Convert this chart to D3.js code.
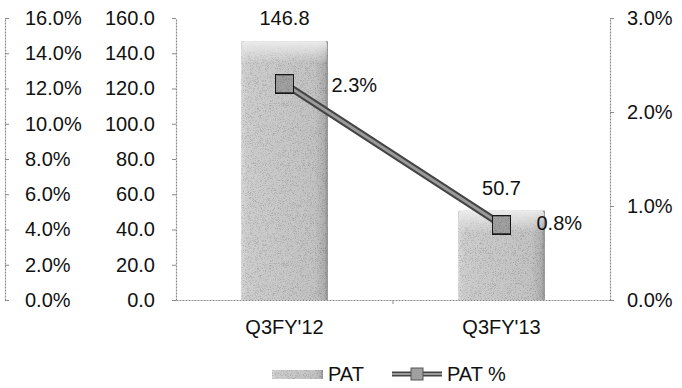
<!DOCTYPE html>
<html>
<head>
<meta charset="utf-8">
<script src="https://cdn.jsdelivr.net/npm/d3@7"></script>
<style>
  html, body { margin: 0; padding: 0; background: #fff; }
  svg { display: block; font-family: "Liberation Sans", Arial, sans-serif; }
  .tick text { font-size: 20px; fill: #111; }
</style>
</head>
<body>
<svg id="chart" width="682" height="388"></svg>
<script>
// Quarterly profit after tax (PAT) and PAT margin
const categories = ["Q3FY'12", "Q3FY'13"];
const patValues = [146.8, 50.7];          // PAT, left value axis
const patPctValues = [2.3, 0.8];          // PAT %, right axis (percent)
const patLabels = ["146.8", "50.7"];
const patPctLabels = ["2.3%", "0.8%"];
const leftValueTicks = [0, 20, 40, 60, 80, 100, 120, 140, 160];
const leftPctTicks = [0, 2, 4, 6, 8, 10, 12, 14, 16];
const rightPctTicks = [0, 1, 2, 3];
const legendNames = ["PAT", "PAT %"];

const svg = d3.select("#chart");
const plotLeft = 176, plotRight = 610, plotTop = 18, plotBottom = 300;

const x = d3.scaleBand().domain(categories).range([plotLeft, plotRight]).padding(0);
const y = d3.scaleLinear().domain([0, 160]).range([plotBottom, plotTop]);
const yPctOuter = d3.scaleLinear().domain([0, 16]).range([plotBottom, plotTop]);
const yPctRight = d3.scaleLinear().domain([0, 3]).range([plotBottom, plotTop]);
const barWidth = x.bandwidth() * 0.4;

// gradients for the bars
const defs = svg.append("defs");
const g1 = defs.append("linearGradient").attr("id", "barH").attr("x1", 0).attr("x2", 1).attr("y1", 0).attr("y2", 0);
[["0%", "#d8d8d8"], ["8%", "#cdcdcd"], ["85%", "#c3c3c3"], ["96%", "#b0b0b0"], ["100%", "#909090"]]
  .forEach(([o, c]) => g1.append("stop").attr("offset", o).attr("stop-color", c));
const g2 = defs.append("linearGradient").attr("id", "barTop").attr("x1", 0).attr("x2", 0).attr("y1", 0).attr("y2", 1);
[["0%", "#ececec", 1], ["100%", "#ececec", 0]]
  .forEach(([o, c, a]) => g2.append("stop").attr("offset", o).attr("stop-color", c).attr("stop-opacity", a));
// fine grain over the gray fills
const grain = defs.append("filter").attr("id", "grain").attr("x", 0).attr("y", 0).attr("width", 1).attr("height", 1);
grain.append("feTurbulence").attr("type", "fractalNoise").attr("baseFrequency", 1.6).attr("numOctaves", 1).attr("seed", 3).attr("result", "n");
grain.append("feColorMatrix").attr("in", "n").attr("type", "matrix")
  .attr("values", "0 0 0 0 0  0 0 0 0 0  0 0 0 0 0  0 0 0 -1.2 0.62").attr("result", "dots");
grain.append("feComposite").attr("in", "dots").attr("in2", "SourceGraphic").attr("operator", "in").attr("result", "d2");
const gm = grain.append("feMerge");
gm.append("feMergeNode").attr("in", "SourceGraphic");
gm.append("feMergeNode").attr("in", "d2");

const axisColor = "#8a8a8a";

// outer percent axis (far left)
const outerAxis = svg.append("g").attr("transform", `translate(5,0)`)
  .call(d3.axisRight(yPctOuter).tickValues(leftPctTicks).tickSize(4).tickSizeOuter(0).tickPadding(16)
    .tickFormat(d => d3.format(".1f")(d) + "%"));

// value axis
const valueAxis = svg.append("g").attr("transform", `translate(${plotLeft},0)`)
  .call(d3.axisLeft(y).tickValues(leftValueTicks).tickSize(4).tickSizeOuter(0).tickPadding(17)
    .tickFormat(d3.format(".1f")));

// right percent axis
const rightAxis = svg.append("g").attr("transform", `translate(${plotRight},0)`)
  .call(d3.axisRight(yPctRight).tickValues(rightPctTicks).tickSize(4).tickSizeOuter(0).tickPadding(13)
    .tickFormat(d => d3.format(".1f")(d) + "%"));

// category axis
const catAxis = svg.append("g").attr("transform", `translate(0,${plotBottom})`)
  .call(d3.axisBottom(x).tickSize(0).tickSizeOuter(0).tickPadding(20));
catAxis.append("line").attr("x1", x.range()[0] + x.step()).attr("x2", x.range()[0] + x.step())
  .attr("y1", 0).attr("y2", 4).attr("stroke", axisColor);

[outerAxis, valueAxis, rightAxis, catAxis].forEach(a => {
  a.select(".domain").attr("stroke", axisColor).attr("stroke-width", 1.2).attr("stroke-dasharray", "2,1");
  a.selectAll(".tick line").attr("stroke", axisColor);
  a.selectAll(".tick text").style("font-size", "20px").attr("fill", "#111").attr("font-family", "Liberation Sans, Arial, sans-serif");
});
catAxis.selectAll(".tick text").attr("dy", "0.71em");

// bars
const bars = svg.append("g");
categories.forEach((c, i) => {
  const bx = x(c) + (x.bandwidth() - barWidth) / 2;
  const by = y(patValues[i]);
  const bh = y(0) - by;
  bars.append("rect").attr("x", bx).attr("y", by).attr("width", barWidth).attr("height", bh)
    .attr("fill", "url(#barH)").attr("filter", "url(#grain)");
  bars.append("rect").attr("x", bx + 1).attr("y", by).attr("width", barWidth - 2).attr("height", Math.min(22, bh))
    .attr("rx", 3).attr("fill", "url(#barTop)");
  bars.append("text").attr("x", x(c) + x.bandwidth() / 2).attr("y", by - 16)
    .attr("text-anchor", "middle").attr("font-size", 20).attr("fill", "#111").text(patLabels[i]);
});

// PAT % line on the right axis
const pts = categories.map((c, i) => [x(c) + x.bandwidth() / 2, yPctRight(patPctValues[i])]);
const line = d3.line();
svg.append("path").attr("d", line(pts)).attr("stroke", "#444").attr("stroke-width", 7).attr("fill", "none");
svg.append("path").attr("d", line(pts)).attr("stroke", "#9a9a9a").attr("stroke-width", 3).attr("fill", "none");
const sq = 19;
pts.forEach((p, i) => {
  svg.append("rect").attr("x", p[0] - sq / 2).attr("y", p[1] - sq / 2).attr("width", sq).attr("height", sq)
    .attr("fill", "#a0a0a0").attr("stroke", "#1a1a1a").attr("stroke-width", 2).attr("filter", "url(#grain)");
});
const pctLabelDx = [47, 35];
const pctLabelDy = [8, 5];
pts.forEach((p, i) => {
  svg.append("text").attr("x", p[0] + pctLabelDx[i]).attr("y", p[1] + pctLabelDy[i])
    .attr("font-size", 20).attr("fill", "#111").text(patPctLabels[i]);
});

// legend
const lg = svg.append("g");
lg.append("rect").attr("x", 272).attr("y", 370).attr("width", 51).attr("height", 9)
  .attr("fill", "url(#barH)").attr("filter", "url(#grain)");
lg.append("text").attr("x", 328).attr("y", 381).attr("font-size", 20).attr("fill", "#111").text(legendNames[0]);
lg.append("line").attr("x1", 392).attr("x2", 442).attr("y1", 374).attr("y2", 374).attr("stroke", "#444").attr("stroke-width", 5);
lg.append("line").attr("x1", 392).attr("x2", 442).attr("y1", 374).attr("y2", 374).attr("stroke", "#9a9a9a").attr("stroke-width", 2);
lg.append("rect").attr("x", 411).attr("y", 368).attr("width", 12).attr("height", 12)
  .attr("fill", "#a0a0a0").attr("stroke", "#555").attr("stroke-width", 1);
lg.append("text").attr("x", 447).attr("y", 381).attr("font-size", 20).attr("fill", "#111").text(legendNames[1]);
</script>
</body>
</html>
